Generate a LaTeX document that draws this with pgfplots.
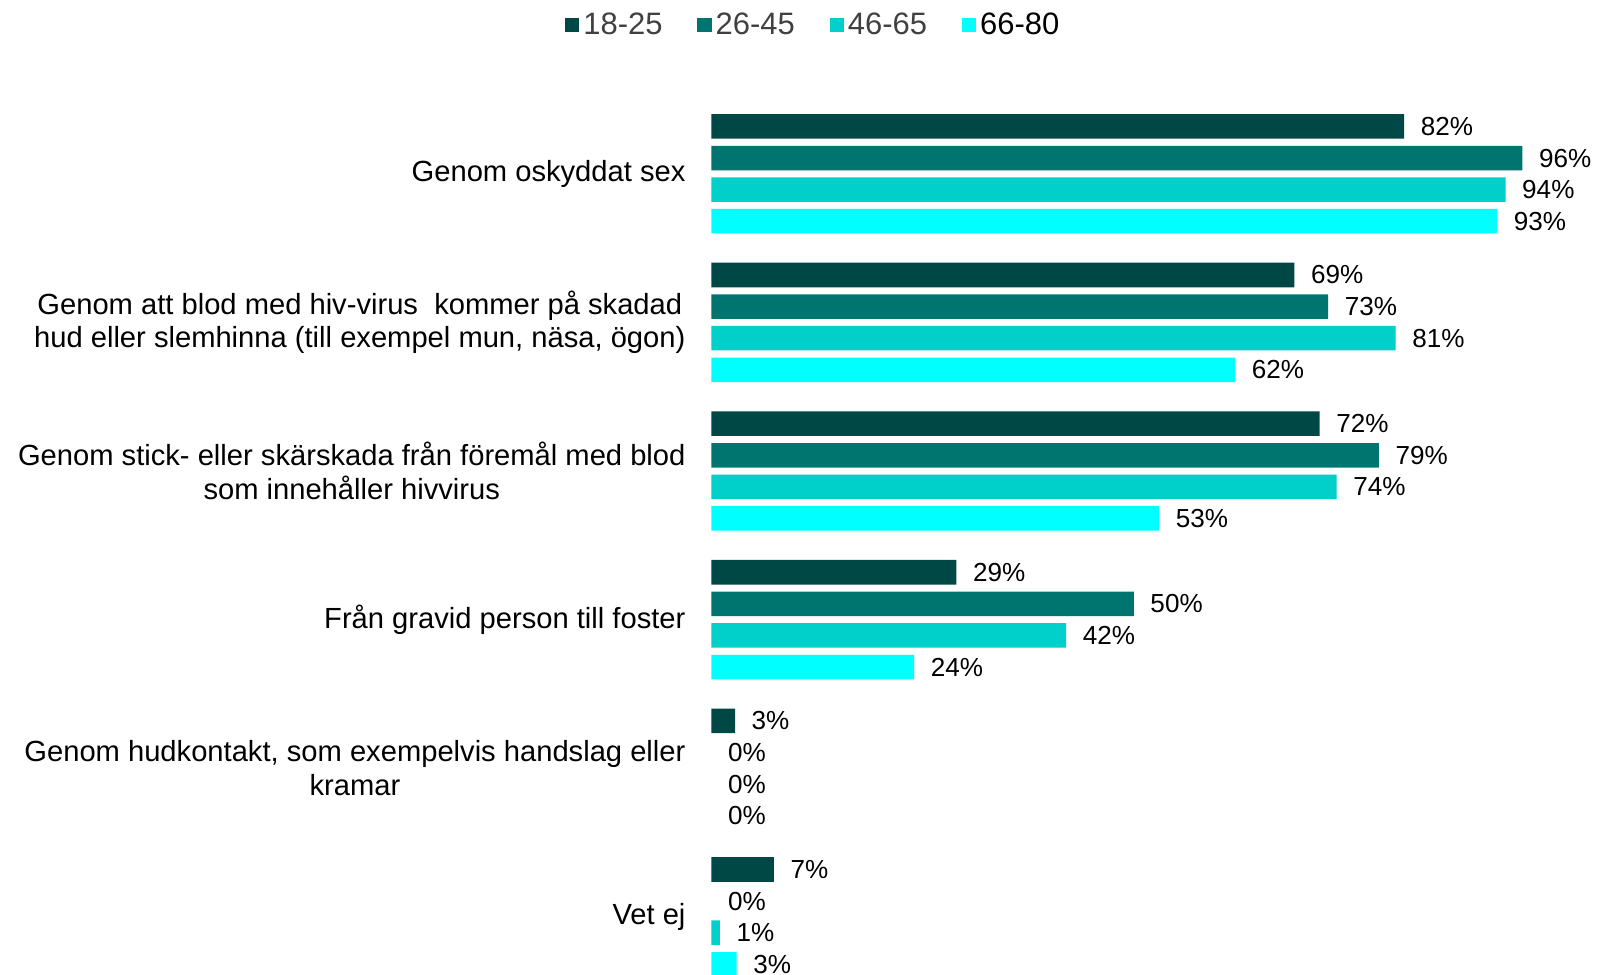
\documentclass[border=0pt]{standalone}
\usepackage{pgfplots}
\pgfplotsset{compat=1.18}
\usepackage{pgfplotstable}
\usepackage{fontspec}
\setmainfont{Liberation Sans}
\definecolor{cA}{HTML}{004845}
\definecolor{cB}{HTML}{00746E}
\definecolor{cC}{HTML}{00CFCA}
\definecolor{cD}{HTML}{00FFFF}
\definecolor{legtxt}{HTML}{404040}
\pgfplotstableread{
cat a b c d
0 82 96 94 93
1 69 73 81 62
2 72 79 74 53
3 29 50 42 24
4 2.8 0 0 0
5 7.4 0 1 3
}\mydata
\begin{document}
\begin{tikzpicture}
\path[use as bounding box] (-349pt,8.3pt) rectangle (435pt,486.3pt);
\begin{axis}[
  at={(0,0)}, anchor=south west,
  scale only axis,
  width=414.5pt, height=437.5pt,
  xmin=0, xmax=100,
  ymin=-0.5, ymax=5.5,
  y dir=reverse,
  xbar, bar width=0.165,
  /pgf/number format/assume math mode=true,
  axis line style={draw=none},
  major tick length=0pt,
  xtick=\empty,
  ytick={0,1,2,3,4,5},
  yticklabels={
    {Genom oskyddat sex},
    {Genom att blod med hiv-virus\ \ kommer på skadad\\hud eller slemhinna (till exempel mun, näsa, ögon)},
    {Genom stick- eller skärskada från föremål med blod\\som innehåller hivvirus},
    {Från gravid person till foster},
    {Genom hudkontakt, som exempelvis handslag eller\\kramar},
    {Vet ej}},
  yticklabel style={align=center, anchor=east, inner sep=0pt, xshift=-12.5pt,
    font=\fontsize{14.3}{16.5}\selectfont},
  clip=false,
  every node near coord/.append style={anchor=west, inner sep=0pt, xshift=8pt, black,
    font=\fontsize{12.8}{15}\selectfont},
  legend columns=4,
  legend style={draw=none, fill=none, at={(0.1218,1)}, anchor=center, yshift=36.5pt,
    font=\fontsize{15.2}{18}\selectfont, inner sep=0pt,
    /tikz/every even column/.append style={column sep=15pt},
    nodes={inner sep=2pt}},
  legend image code/.code={\fill[#1] (0pt,-3.5pt) rectangle (7pt,3.5pt);},
  nzbar/.style={draw=none, x filter/.expression={x==0 ? nan : x}},
  lbl/.style={draw=none, fill=none, forget plot,
    nodes near coords={\pgfmathprintnumber[fixed,precision=0]{\pgfplotspointmeta}\%}},
]
\addplot[fill=cA, nzbar, bar shift=-0.319] table[x=a, y=cat] {\mydata};
\addlegendentry{\textcolor{legtxt}{18-25}}
\addplot[fill=cB, nzbar, bar shift=-0.106] table[x=b, y=cat] {\mydata};
\addlegendentry{\textcolor{legtxt}{26-45}}
\addplot[fill=cC, nzbar, bar shift=0.106] table[x=c, y=cat] {\mydata};
\addlegendentry{\textcolor{legtxt}{46-65}}
\addplot[fill=cD, nzbar, bar shift=0.319] table[x=d, y=cat] {\mydata};
\addlegendentry{66-80}
\addplot[lbl, bar shift=-0.319] table[x=a, y=cat] {\mydata};
\addplot[lbl, bar shift=-0.106] table[x=b, y=cat] {\mydata};
\addplot[lbl, bar shift=0.106] table[x=c, y=cat] {\mydata};
\addplot[lbl, bar shift=0.319] table[x=d, y=cat] {\mydata};
\end{axis}
\end{tikzpicture}
\end{document}
